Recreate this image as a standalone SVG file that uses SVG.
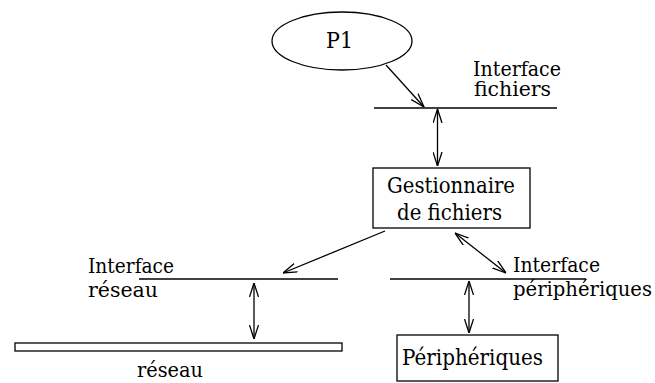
<svg xmlns="http://www.w3.org/2000/svg" width="655" height="383" viewBox="0 0 655 383">
  <style>
    .shape { fill: #fff; stroke: #000; stroke-width: 1.3; }
    .bar { fill: none; stroke: #000; stroke-width: 1.3; }
    .conn { fill: none; stroke: #000; stroke-width: 1.3; }
  </style>
  <defs>
    <marker id="head" viewBox="0 0 14 10" refX="14" refY="5" markerWidth="14" markerHeight="10" markerUnits="userSpaceOnUse" orient="auto-start-reverse">
      <path d="M0,0.5 L14,5 L0,9.5" fill="none" stroke="#000" stroke-width="1.3"/>
    </marker>
  </defs>

  <rect width="655" height="383" fill="#fff"/>

  <g font-family="DejaVu Serif, serif" font-size="20" fill="#000">
    <!-- process -->
    <g id="p1">
      <ellipse class="shape" cx="342" cy="41" rx="70" ry="29"/>
      <text x="326" y="48" textLength="27" lengthAdjust="spacingAndGlyphs" font-size="23">P1</text>
    </g>

    <!-- file interface -->
    <g id="interface-fichiers">
      <line class="bar" x1="374" y1="108" x2="557" y2="108"/>
      <text x="473" y="76" textLength="88" lengthAdjust="spacingAndGlyphs">Interface</text>
      <text x="474" y="96" textLength="77" lengthAdjust="spacingAndGlyphs">fichiers</text>
    </g>

    <!-- file manager -->
    <g id="gestionnaire">
      <rect class="shape" x="373" y="168" width="157" height="60"/>
      <text x="387" y="193" textLength="128" lengthAdjust="spacingAndGlyphs" font-size="22">Gestionnaire</text>
      <text x="397" y="220" textLength="105" lengthAdjust="spacingAndGlyphs" font-size="22">de fichiers</text>
    </g>

    <!-- network interface -->
    <g id="interface-reseau">
      <line class="bar" x1="139" y1="279" x2="338" y2="279"/>
      <text x="88" y="273" textLength="86" lengthAdjust="spacingAndGlyphs">Interface</text>
      <text x="88" y="297" textLength="70" lengthAdjust="spacingAndGlyphs">réseau</text>
    </g>

    <!-- device interface -->
    <g id="interface-peripheriques">
      <line class="bar" x1="390" y1="279" x2="586" y2="279"/>
      <text x="513" y="272" textLength="87" lengthAdjust="spacingAndGlyphs">Interface</text>
      <text x="513" y="296" textLength="139" lengthAdjust="spacingAndGlyphs">périphériques</text>
    </g>

    <!-- network -->
    <g id="reseau">
      <rect class="shape" x="15" y="343" width="327" height="8"/>
      <text x="137" y="377" textLength="66" lengthAdjust="spacingAndGlyphs">réseau</text>
    </g>

    <!-- devices -->
    <g id="peripheriques">
      <rect class="shape" x="397" y="335" width="161" height="46"/>
      <text x="402" y="365" textLength="141" lengthAdjust="spacingAndGlyphs" font-size="22">Périphériques</text>
    </g>
  </g>

  <!-- connectors -->
  <g id="connectors">
    <line class="conn" x1="386" y1="65" x2="424" y2="107" marker-end="url(#head)"/>
    <line class="conn" x1="437.5" y1="109" x2="437.5" y2="166" marker-start="url(#head)" marker-end="url(#head)"/>
    <line class="conn" x1="385" y1="231" x2="283" y2="273" marker-end="url(#head)"/>
    <line class="conn" x1="455" y1="233" x2="506" y2="273" marker-start="url(#head)" marker-end="url(#head)"/>
    <line class="conn" x1="254" y1="283" x2="254" y2="339" marker-start="url(#head)" marker-end="url(#head)"/>
    <line class="conn" x1="469" y1="281" x2="469" y2="333" marker-start="url(#head)" marker-end="url(#head)"/>
  </g>
</svg>
